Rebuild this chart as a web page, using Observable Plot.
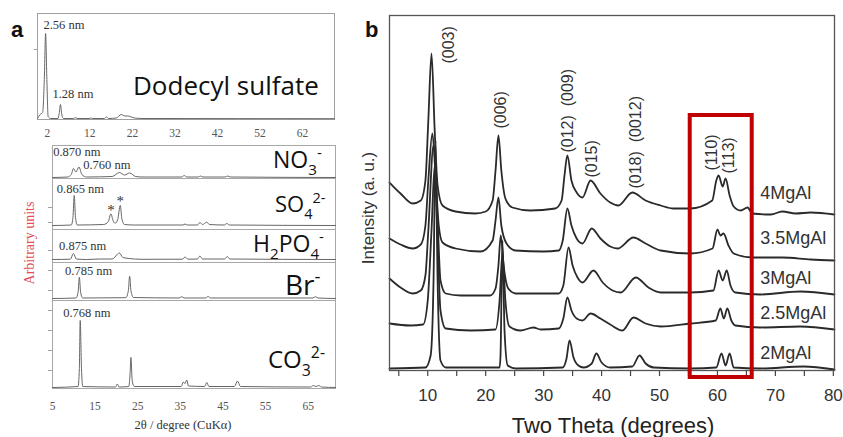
<!DOCTYPE html>
<html><head><meta charset="utf-8">
<script src="https://cdn.jsdelivr.net/npm/d3@7"></script>
<script src="https://cdn.jsdelivr.net/npm/@observablehq/plot@0.6"></script>
<style>
html,body{margin:0;padding:0;background:#fff;}
#fig{position:relative;width:843px;height:437px;overflow:hidden;background:#fff;}
</style></head><body><div id="fig"></div>
<script>
// ---------------- DATA (intensities in arbitrary units) ----------------
// Panel a, top: dodecyl sulfate [2θ, intensity]
const dodecylSulfate = [[-0.3,1],[0.3,5],[0.9,7],[1.3,40],[1.6,86],[1.9,40],[2.2,3],[2.8,1],[4.5,1],[4.8,6],[5.1,15],[5.4,5],[5.8,1],[8.2,1],[8.6,2],[9.0,1],[11.8,1],[12.2,1.5],[12.6,1],[15.4,1],[15.9,2.5],[16.4,1],[18.2,1.5],[19.4,5],[20.2,3.5],[20.9,3.5],[22.5,1.5],[24.5,1],[69.5,0.8]];
const dodecylTicks = [2,12,22,32,42,52,62];
const dodecylLabels = [{text:"2.56 nm", x:1.1, y:94.8},{text:"1.28 nm", x:3.2, y:25.8}];

// Panel a, stacked anion patterns [2θ, intensity]
const no3 = [[5,1],[8.5,1.5],[9.4,4],[9.9,10],[10.5,6.5],[11.2,11.5],[11.9,4],[13,1.5],[19,2],[20.7,6],[21.9,3.5],[23.1,5.5],[24.5,2],[26,1.5],[35.3,1.5],[35.9,3],[36.5,1.5],[39.2,1.5],[39.7,2.5],[40.3,1.5],[45.5,1.5],[46.1,2.5],[46.7,1.5],[71.4,1]];
const so4 = [[5,4],[9.4,4.5],[9.8,12],[10.1,34],[10.4,12],[10.8,4.5],[17,5],[18.1,8],[18.7,15.7],[19.2,9],[19.7,6.3],[20.3,10],[20.9,24],[21.3,10],[21.9,5],[24,4.5],[35.6,4.5],[36.1,5.5],[36.6,4.5],[39,4.5],[39.6,7],[40.2,5],[41.2,7.3],[41.8,5],[45.3,4.5],[45.9,6],[46.5,4.5],[71.4,4]];
const so4StarPeaks = [[18.7,15.7],[20.9,24]];
const h2po4 = [[5,3],[9.2,3.3],[9.9,9],[10.6,3.5],[13,3],[16,3.5],[19,3.5],[20.7,9.5],[21.5,5],[23,4],[26,3.2],[35.5,3.3],[36.1,5.5],[36.8,3.3],[39,3.5],[39.6,6.5],[40.2,3.5],[45.4,3.5],[46,6],[46.6,3.5],[71.4,3]];
const br = [[5,2],[10.5,2.5],[11.0,8],[11.3,23.3],[11.6,8],[12.1,2.5],[22.2,2.8],[22.8,10],[23.1,24.3],[23.4,10],[24,3],[34.7,2.5],[35.3,3.8],[35.9,2.5],[40.9,2.5],[41.5,4],[42.1,2.5],[66.1,2.5],[66.7,3.8],[67.3,2.5],[71.4,2]];
const co3 = [[5,1],[11.0,2],[11.3,20],[11.5,68],[11.8,20],[12.1,2],[19.8,1.5],[20.2,4.5],[20.6,1.5],[22.9,2],[23.2,15],[23.4,31],[23.7,8],[24.2,2],[35.2,2],[35.7,6.5],[36.1,5],[36.5,8.5],[36.9,2.5],[40.7,2],[41.2,6],[41.7,2],[47.7,2],[48.4,7.5],[49.1,2],[65.6,1.5],[66.2,3],[66.8,2],[67.5,3],[68.1,1.5],[71.4,1]];
const anionTicks = [5,15,25,35,45,55,65];
const no3Labels = [{text:"0.870 nm", x:5.15, y:26.8},{text:"0.760 nm", x:12.2, y:13.8}];
const so4Labels = [{text:"0.865 nm", x:6.0, y:40.8}];
const h2po4Labels = [{text:"0.875 nm", x:6.55, y:16.8}];
const brLabels = [{text:"0.785 nm", x:7.95, y:29.5}];
const co3Labels = [{text:"0.768 nm", x:7.5, y:75.1}];

// Panel b: MgAl LDH patterns (stacked, as plotted) [2θ, intensity]
const mg4 = [[3.4,188],[5.3,177],[7.4,167],[8.8,170],[9.6,190],[10.1,250],[10.65,317],[11.2,240],[11.7,185],[12.55,165],[14.8,159],[18.2,157],[20.0,159],[21.2,170],[21.7,200],[22.2,235],[22.7,200],[23.4,172],[24.6,163],[27.7,160],[32.0,162],[33.1,170],[33.6,195],[34.1,215],[34.8,190],[35.7,178],[36.7,173],[38.1,190],[39.8,177],[41.5,168],[42.9,165],[45.3,178],[47.6,170],[50.2,165],[52.4,162],[55.3,162],[59.1,170],[59.8,190],[60.2,195],[60.9,184],[61.4,192],[62.1,175],[62.8,164],[64.0,160],[65.2,163],[66.0,157],[69.2,156],[71.2,159],[73.5,157],[76.1,158],[80.2,156]];
const mg35 = [[3.4,132],[5.3,126],[7.4,122],[8.8,126],[9.6,145],[10.1,190],[10.8,237],[11.3,200],[11.9,145],[12.55,128],[14.8,122],[19.1,119],[21.2,130],[21.7,150],[22.2,173],[22.7,145],[23.6,127],[25.1,120],[30.0,119],[32.6,120],[33.3,130],[34.1,162],[34.8,145],[35.7,132],[36.7,127],[38.3,142],[39.8,132],[41.5,124],[42.75,122],[45.5,133],[47.6,127],[50.2,120],[55.3,117],[59.15,122],[60.0,141],[60.5,135],[61.05,137],[61.9,125],[62.8,117],[66.0,113],[71.2,113],[76.1,111],[80.2,110]];
const mg3 = [[3.4,92],[5.3,83],[7.4,77],[8.8,80],[9.6,95],[10.1,140],[11.0,225],[11.7,150],[12.2,90],[13.1,77],[15.7,75],[20.8,75],[21.7,82],[22.2,105],[22.6,135],[23.1,105],[23.9,82],[25.2,77],[32.6,77],[33.4,85],[34.3,123],[35.0,105],[35.85,93],[36.7,88],[38.6,100],[40.2,88],[41.9,80],[43.3,78],[45.9,93],[48.1,83],[50.2,78],[55.3,78],[59.3,80],[60.2,100],[60.9,90],[61.6,100],[62.25,85],[63.1,78],[67.4,76],[74.3,79],[80.2,76]];
const mg25 = [[3.4,47],[7.0,45],[9.2,46],[10.0,70],[10.65,140],[11.2,205],[11.7,130],[12.2,60],[13.1,42],[17.4,40],[21.7,41],[22.4,70],[22.9,118],[23.4,70],[24.1,44],[26.0,40],[28.25,43],[29.5,41],[32.6,42],[33.4,52],[34.1,73],[34.8,60],[35.7,52],[36.7,50],[38.1,57],[39.8,52],[41.5,46],[43.6,40],[45.5,53],[47.6,47],[50.2,44],[55.3,47],[59.7,50],[60.5,62],[61.1,52],[61.7,62],[62.4,50],[63.1,45],[67.4,43],[74.3,44],[80.2,41]];
const mg2 = [[3.4,2],[9.6,3],[10.5,15],[11.0,90],[11.34,230],[11.7,90],[12.2,10],[13.1,3],[22.4,3],[22.56,15],[22.9,130],[23.25,40],[23.8,5],[25.2,2],[33.3,3],[33.95,12],[34.47,30],[35.16,13],[36.0,5],[36.9,3],[38.3,7],[39.1,17],[40.0,8],[41.5,3],[45.3,4],[46.55,15],[47.6,7],[49.0,3],[55.3,2],[59.8,3],[60.7,17],[61.4,5],[62.1,17],[62.8,3],[67.4,2],[74.85,4],[80.2,1]];
const mgNames = ["4MgAl","3.5MgAl","3MgAl","2.5MgAl","2MgAl"];
const mgLabelPos = [177,132.5,92.5,57.5,17.5];
const mgMajorTicks = [10,20,30,40,50,60,70,80];
const mgMinorTicks = [5,15,25,35,45,55,65,75];
const peakLabels = [
  {text:"(003)", x:13.6, y:307},
  {text:"(006)", x:22.6, y:242},
  {text:"(012)  (009)", x:34.1, y:218},
  {text:"(015)", x:38.3, y:193},
  {text:"(018)  (0012)", x:45.9, y:182},
  {text:"(110)", x:59.0, y:200},
  {text:"(113)", x:62.0, y:197}
];
const highlightBox = [{x1:55.3, x2:66.0, y1:-7, y2:255}];

// ---------------- DRAWING ----------------
const fig = document.getElementById("fig");
function place(el, left, top) {
  el.style.position = "absolute";
  el.style.left = left + "px";
  el.style.top = top + "px";
  fig.appendChild(el);
}
const X = d => d[0], Y = d => d[1];
const serif = "'Liberation Serif', 'Times New Roman', serif";
const sans = "'Liberation Sans', Arial, sans-serif";

// Panel a top
place(Plot.plot({
  width: 297, height: 106, margin: 0,
  x: {domain: [-0.3, 69.5], axis: null},
  y: {domain: [0, 106], axis: null},
  style: {overflow: "visible", background: "transparent", fontFamily: serif, fontSize: "12.5px", color: "#555"},
  marks: [
    Plot.frame({stroke: "#a0a0a0", strokeWidth: 1}),
    Plot.axisX(dodecylTicks, {anchor: "bottom", tickSize: 0, tickPadding: 9, fontSize: 11.5, label: null}),
    Plot.axisY([70], {anchor: "left", tickSize: 3, tickFormat: () => "", label: null, stroke: "#a0a0a0"}),
    Plot.line(dodecylSulfate, {x: X, y: Y, curve: "monotone-x", stroke: "#666", strokeWidth: 1}),
    Plot.text(dodecylLabels, {x: "x", y: "y", text: "text", textAnchor: "start", fill: "#333", fontSize: 12.5})
  ]
}), 37, 13);

// Panel a stacked sub-panels
function anionPanel(series, height, labels, ticks, extra = []) {
  return Plot.plot({
    width: 283, height, margin: 0,
    x: {domain: [5, 71.4], axis: null},
    y: {domain: [0, height], axis: null},
    style: {overflow: "visible", background: "transparent", fontFamily: serif, fontSize: "12.5px", color: "#555"},
    marks: [
      Plot.frame({stroke: "#a8a8a8", strokeWidth: 1}),
      Plot.axisY(ticks, {anchor: "left", tickSize: 4, tickFormat: () => "", label: null, stroke: "#a0a0a0"}),
      Plot.line(series, {x: X, y: Y, curve: "monotone-x", stroke: "#666", strokeWidth: 1}),
      Plot.text(labels, {x: "x", y: "y", text: "text", textAnchor: "start", fill: "#333", fontSize: 12.5}),
      ...extra
    ]
  });
}
place(anionPanel(no3, 33, no3Labels, []), 52, 145);
place(anionPanel(so4, 51, so4Labels, [7, 22], [
  Plot.text(so4StarPeaks, {x: X, y: Y, text: () => "*", dy: -4, fontSize: 15, fill: "#333"})
]), 52, 178);
place(anionPanel(h2po4, 33, h2po4Labels, [12]), 52, 229);
place(anionPanel(br, 38, brLabels, [10, 30]), 52, 262);
place(anionPanel(co3, 88, co3Labels, [18, 38, 58, 78], [
  Plot.axisX(anionTicks, {anchor: "bottom", tickSize: 0, tickPadding: 13, fontSize: 11.5, label: null})
]), 52, 300);

// Panel b
const mgSeries = [mg4, mg35, mg3, mg25, mg2];
place(Plot.plot({
  width: 445, height: 355, margin: 0,
  x: {domain: [3.4, 80.2], axis: null},
  y: {domain: [0, 355], axis: null},
  style: {overflow: "visible", background: "transparent", fontFamily: sans, color: "#333"},
  marks: [
    Plot.axisX(mgMinorTicks, {anchor: "bottom", tickSize: 6, tickFormat: () => "", label: null, stroke: "#444", strokeWidth: 1.2}),
    Plot.axisX(mgMajorTicks, {anchor: "bottom", tickSize: 6, tickPadding: 12, fontSize: 17, label: null, stroke: "#444", strokeWidth: 1.2}),
    ...mgSeries.map(s => Plot.line(s, {x: X, y: Y, curve: "monotone-x", stroke: "#2a2a2a", strokeWidth: 1.8})),
    Plot.frame({stroke: "#555", strokeWidth: 1.3}),
    Plot.rect(highlightBox, {x1: "x1", x2: "x2", y1: "y1", y2: "y2", fill: "none", stroke: "#c00000", strokeWidth: 4}),
    Plot.text(peakLabels, {x: "x", y: "y", text: "text", rotate: -90, textAnchor: "start", lineAnchor: "middle", fontSize: 16, fill: "#333"}),
    Plot.text(mgNames, {x: () => 67.4, y: (d, i) => mgLabelPos[i], text: d => d, textAnchor: "start", lineAnchor: "middle", fontSize: 18, fill: "#333"})
  ]
}), 389, 15);

// Overlay text (panel letters, axis titles, anion names)
const ov = d3.create("svg").attr("width", 843).attr("height", 437)
  .style("position", "absolute").style("left", "0px").style("top", "0px").style("overflow", "visible");
ov.append("text").attr("x", 11).attr("y", 37).attr("font-family", sans).attr("font-weight", "bold").attr("font-size", 22).attr("fill", "#111").text("a");
ov.append("text").attr("x", 365).attr("y", 37).attr("font-family", sans).attr("font-weight", "bold").attr("font-size", 22).attr("fill", "#111").text("b");
ov.append("text").attr("transform", "translate(34,243) rotate(-90)").attr("text-anchor", "middle")
  .attr("font-family", serif).attr("font-size", 14).attr("fill", "#e24b57").text("Arbitrary units");
ov.append("text").attr("x", 183).attr("y", 429).attr("text-anchor", "middle")
  .attr("font-family", serif).attr("font-size", 12.5).attr("fill", "#333").text("2θ / degree (CuKα)");
ov.append("text").attr("transform", "translate(374,208) rotate(-90)").attr("text-anchor", "middle")
  .attr("font-family", sans).attr("font-size", 17).attr("fill", "#333").text("Intensity (a. u.)");
ov.append("text").attr("x", 613).attr("y", 433).attr("text-anchor", "middle")
  .attr("font-family", sans).attr("font-size", 22).attr("fill", "#222").text("Two Theta (degrees)");

const cal = "'Open Sans', 'Noto Sans', sans-serif";
ov.append("text").attr("x", 133).attr("y", 95).attr("font-family", cal).attr("font-size", 26).attr("fill", "#111").text("Dodecyl sulfate");
function rich(x, y, size, parts) {
  const t = ov.append("text").attr("x", x).attr("y", y).attr("font-family", cal).attr("font-size", size).attr("fill", "#111");
  let off = 0;
  for (const [s, kind] of parts) {
    const target = kind === "sub" ? 0.32 * size : kind === "sup" ? -0.42 * size : 0;
    t.append("tspan").attr("dy", target - off).attr("font-size", kind ? 0.66 * size : size).text(s);
    off = target;
  }
}
rich(273, 168, 23, [["NO"], ["3", "sub"], ["-", "sup"]]);
rich(275, 212, 22, [["SO"], ["4", "sub"], ["2-", "sup"]]);
rich(253, 252, 23, [["H"], ["2", "sub"], ["PO"], ["4", "sub"], ["-", "sup"]]);
rich(285, 295, 28, [["Br"], ["-", "sup"]]);
rich(268, 368, 24, [["CO"], ["3", "sub"], ["2-", "sup"]]);
fig.appendChild(ov.node());
</script>
</body></html>
